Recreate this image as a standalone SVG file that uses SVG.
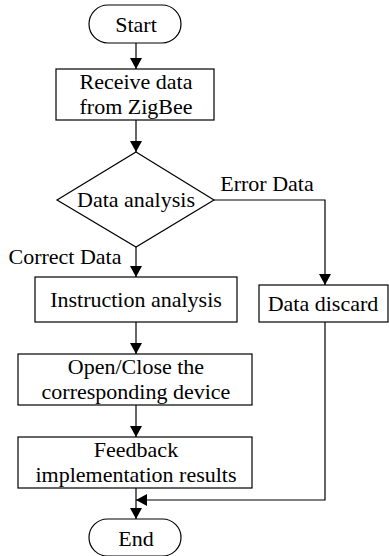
<svg xmlns="http://www.w3.org/2000/svg" width="389" height="556" viewBox="0 0 389 556">
<style>
.s{fill:#fff;stroke:#000;stroke-width:1.2}
.t{font-family:"Liberation Serif","Times New Roman",serif;font-size:22px;fill:#000;text-anchor:middle}
.c{fill:none;stroke:#000;stroke-width:1.2}
</style>
<defs>
<marker id="a" markerWidth="12" markerHeight="12" refX="11" refY="6" orient="auto" markerUnits="userSpaceOnUse">
<path d="M0,0 L11,6 L0,12 Z" fill="#000"/>
</marker>
</defs>
<g id="connectors">
<path class="c" d="M136,43 V69" marker-end="url(#a)"/>
<path class="c" d="M136,120 V152" marker-end="url(#a)"/>
<path class="c" d="M136,247 V277" marker-end="url(#a)"/>
<path class="c" d="M214,200 H325 V285" marker-end="url(#a)"/>
<path class="c" d="M136,322 V354" marker-end="url(#a)"/>
<path class="c" d="M136,405 V437" marker-end="url(#a)"/>
<path class="c" d="M136,488 V519" marker-end="url(#a)"/>
<path class="c" d="M325,322 V500 H136" marker-end="url(#a)"/>
<text class="t" x="267" y="191">Error Data</text>
<text class="t" x="65" y="264">Correct Data</text>
</g>
<g id="start">
<rect class="s" x="89" y="5" width="92" height="38" rx="19"/>
<text class="t" x="136" y="32">Start</text>
</g>
<g id="receive">
<rect class="s" x="56" y="69" width="158" height="51"/>
<text class="t" x="136" y="89">Receive data</text>
<text class="t" x="136" y="114">from ZigBee</text>
</g>
<g id="analysis">
<polygon class="s" points="136,152 214,200 136,247 57,200"/>
<text class="t" x="136" y="207">Data analysis</text>
</g>
<g id="instruction">
<rect class="s" x="35" y="277" width="202" height="45"/>
<text class="t" x="136" y="307">Instruction analysis</text>
</g>
<g id="discard">
<rect class="s" x="259" y="285" width="129" height="37"/>
<text class="t" x="323" y="311">Data discard</text>
</g>
<g id="openclose">
<rect class="s" x="18" y="354" width="234" height="51"/>
<text class="t" x="136" y="374">Open/Close the</text>
<text class="t" x="136" y="399">corresponding device</text>
</g>
<g id="feedback">
<rect class="s" x="18" y="437" width="234" height="51"/>
<text class="t" x="136" y="457">Feedback</text>
<text class="t" x="136" y="482">implementation results</text>
</g>
<g id="end">
<rect class="s" x="89" y="519" width="92" height="37" rx="18.5"/>
<text class="t" x="136" y="546">End</text>
</g>
</svg>
